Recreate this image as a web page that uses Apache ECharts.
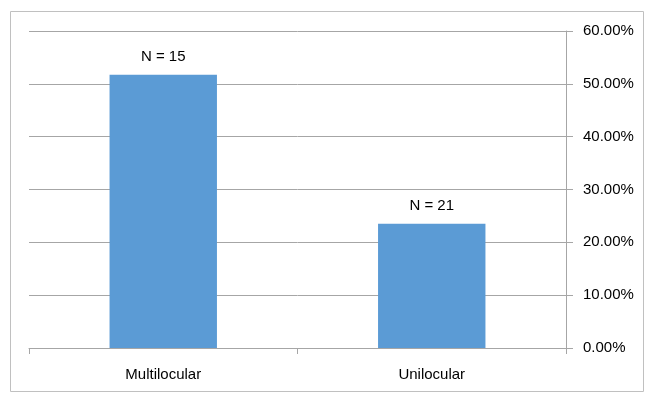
<!DOCTYPE html>
<html><head><meta charset="utf-8">
<script src="https://cdn.jsdelivr.net/npm/echarts@6/dist/echarts.min.js"></script>
<style>html,body{margin:0;padding:0;background:#fff}#c{width:650px;height:398px}</style>
</head><body><div id="c"></div>
<script>
const categories = ['Multilocular', 'Unilocular'];
const percentValues = [51.7, 23.5];
const barLabels = ['N = 15', 'N = 21'];
const yTicks = [0, 10, 20, 30, 40, 50, 60];

const chart = echarts.init(document.getElementById('c'), null, {renderer: 'canvas'});
const font = 'Liberation Sans, Arial, sans-serif';
chart.setOption({
  animation: false,
  graphic: [{type: 'rect', shape: {x: 10.5, y: 11.5, width: 633, height: 380},
    style: {fill: 'none', stroke: '#c0c0c0', lineWidth: 1}}],
  grid: {left: 29, right: 84, top: 31, bottom: 50, containLabel: false},
  xAxis: {
    type: 'category', data: categories,
    axisLine: {show: true, lineStyle: {color: '#a6a6a6', width: 1}},
    axisTick: {show: true, length: 6, interval: 0, lineStyle: {color: '#a6a6a6'}},
    axisLabel: {color: '#000', fontSize: 15, fontFamily: font, margin: 19}
  },
  yAxis: {
    type: 'value', position: 'right', min: yTicks[0], max: yTicks[yTicks.length - 1], interval: 10,
    axisLine: {show: true, lineStyle: {color: '#a6a6a6', width: 1}},
    axisTick: {show: true, length: 7, lineStyle: {color: '#a6a6a6'}},
    splitLine: {show: true, lineStyle: {color: '#a6a6a6', width: 1}},
    axisLabel: {color: '#000', fontSize: 15, fontFamily: font, margin: 17,
      formatter: v => v.toFixed(2) + '%'}
  },
  series: [{
    type: 'bar', data: percentValues, barWidth: '40%',
    itemStyle: {color: '#5b9bd5'},
    label: {show: true, position: 'top', distance: 10, color: '#000', fontSize: 15, fontFamily: font,
      formatter: p => barLabels[p.dataIndex]}
  }]
});
</script></body></html>
